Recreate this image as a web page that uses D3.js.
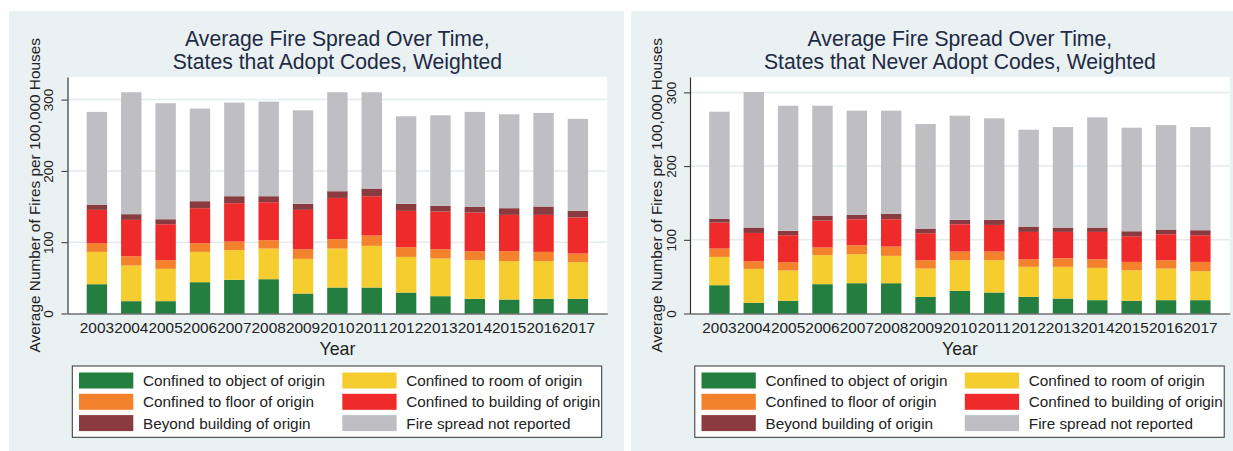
<!DOCTYPE html>
<html>
<head>
<meta charset="utf-8">
<script src="https://cdn.jsdelivr.net/npm/d3@7/dist/d3.min.js"></script>
<style>
  html, body { margin: 0; padding: 0; background: #ffffff; }
  svg { display: block; font-family: "Liberation Sans", Arial, sans-serif; }
</style>
</head>
<body>
<svg id="chart" width="1233" height="451"></svg>
<script>
// ---------- DATA ----------
const years = ["2003","2004","2005","2006","2007","2008","2009","2010","2011","2012","2013","2014","2015","2016","2017"];
const seriesNames = [
  "Confined to object of origin",
  "Confined to room of origin",
  "Confined to floor of origin",
  "Confined to building of origin",
  "Beyond building of origin",
  "Fire spread not reported"
];
const yTicks = [0, 100, 200, 300];

// States that adopt codes
const adoptObject      = [41.1, 17.3, 17.3, 43.9, 47.2, 48.1, 28.0, 36.4, 36.4, 29.4, 24.3, 20.6, 19.6, 20.6, 20.6];
const adoptRoom        = [45.3, 50.0, 45.3, 42.5, 41.6, 43.0, 48.6, 54.7, 58.5, 50.0, 52.8, 54.2, 53.8, 52.8, 51.4];
const adoptFloor       = [12.2, 13.1, 12.2, 12.2, 12.1, 11.7, 13.6, 13.1, 14.4, 13.6, 13.1, 12.6, 14.0, 13.0, 12.1];
const adoptBuilding    = [46.7, 50.9, 50.4, 49.1, 53.8, 53.3, 55.1, 57.9, 55.2, 50.9, 52.8, 54.2, 50.9, 51.9, 50.5];
const adoptBeyond      = [7.0, 8.0, 7.0, 9.8, 9.8, 8.4, 8.4, 9.4, 10.7, 9.8, 7.9, 7.9, 9.4, 11.7, 9.3];
const adoptNotReported = [130.4, 171.0, 162.7, 129.9, 131.3, 132.7, 131.3, 138.8, 135.1, 122.9, 127.1, 133.2, 131.7, 131.3, 129.0];

// States that never adopt codes
const neverObject      = [38.4, 14.5, 17.2, 39.8, 41.1, 41.1, 22.6, 30.7, 28.5, 22.6, 20.3, 18.1, 17.2, 18.1, 18.1];
const neverRoom        = [38.4, 46.0, 41.1, 39.3, 39.3, 37.1, 38.4, 41.6, 43.8, 40.7, 43.0, 43.8, 41.5, 42.9, 39.3];
const neverFloor       = [11.3, 10.4, 11.3, 10.4, 12.2, 12.6, 11.3, 11.7, 11.7, 10.3, 11.7, 11.7, 11.3, 11.3, 12.6];
const neverBuilding    = [35.2, 38.4, 36.6, 36.6, 35.3, 37.1, 36.6, 37.1, 36.2, 37.1, 35.7, 37.1, 34.8, 35.2, 36.2];
const neverBeyond      = [5.0, 7.3, 5.9, 6.7, 5.8, 7.2, 6.3, 5.9, 6.8, 7.2, 5.9, 5.9, 6.8, 6.4, 6.8];
const neverNotReported = [145.5, 183.9, 169.8, 149.1, 141.5, 140.1, 141.9, 141.4, 137.8, 131.5, 136.4, 149.5, 140.5, 141.8, 140.0];

const colors = ["#237e3f", "#f5cd2e", "#f4822c", "#ee2b2a", "#8a3b40", "#bfbfc3"];

function buildRows(arrs) {
  return years.map((yr, i) => {
    const row = { year: yr };
    seriesNames.forEach((s, j) => { row[s] = arrs[j][i]; });
    return row;
  });
}

const panels = [
  {
    dx: 0,
    title: ["Average Fire Spread Over Time,", "States that Adopt Codes, Weighted"],
    rows: buildRows([adoptObject, adoptRoom, adoptFloor, adoptBuilding, adoptBeyond, adoptNotReported]),
    yMax: 331.7
  },
  {
    dx: 622.5,
    title: ["Average Fire Spread Over Time,", "States that Never Adopt Codes, Weighted"],
    rows: buildRows([neverObject, neverRoom, neverFloor, neverBuilding, neverBeyond, neverNotReported]),
    yMax: 320.9
  }
];

const svg = d3.select("#chart");
const stack = d3.stack().keys(seriesNames);

panels.forEach((p, pi) => {
  const g = svg.append("g").attr("transform", `translate(${p.dx},0)`);
  const pl = 67.5, pr = 607.3, pt = 77, pb = 313.5;

  // panel background
  g.append("rect")
    .attr("x", pi === 0 ? 9 : 8.5).attr("y", 11)
    .attr("width", pi === 0 ? 615 : 620).attr("height", 440)
    .attr("fill", "#e9f1f3");

  // plot region
  g.append("rect").attr("x", pl).attr("y", pt).attr("width", pr - pl).attr("height", pb - pt).attr("fill", "#ffffff");

  const x = d3.scaleBand().domain(years).range([pl, pr]).paddingInner(0.406).paddingOuter(0.559);
  const y = d3.scaleLinear().domain([0, p.yMax]).range([pb, pt]);

  // grid
  g.append("g").selectAll("line").data(yTicks.filter(v => v > 0)).join("line")
    .attr("x1", pl).attr("x2", pr)
    .attr("y1", d => y(d)).attr("y2", d => y(d))
    .attr("stroke", "#e3ebee").attr("stroke-width", 1.5);

  // bars
  const stacked = stack(p.rows);
  g.append("g").selectAll("g").data(stacked).join("g")
    .attr("fill", (d, i) => colors[i])
    .selectAll("rect").data(d => d).join("rect")
    .attr("x", d => x(d.data.year))
    .attr("width", x.bandwidth())
    .attr("y", d => y(d[1]))
    .attr("height", d => y(d[0]) - y(d[1]));

  // y axis
  const ya = g.append("g").attr("transform", `translate(${pl},0)`)
    .call(d3.axisLeft(y).tickValues(yTicks).tickSize(6).tickSizeOuter(0));
  ya.select(".domain").attr("stroke", "#333").attr("stroke-width", 1.2);
  ya.selectAll(".tick line").attr("stroke", "#333").attr("stroke-width", 1);
  ya.selectAll(".tick text").remove();
  ya.selectAll(".tick").append("text")
    .attr("transform", `translate(${53.3 - pl},0) rotate(-90)`)
    .attr("text-anchor", "middle")
    .attr("fill", "#222")
    .attr("font-size", "13.5px")
    .text(d => d);

  // x axis
  const xa = g.append("g").attr("transform", `translate(0,${pb})`)
    .call(d3.axisBottom(x).tickSize(0).tickSizeOuter(0));
  xa.select(".domain").attr("stroke", "#333").attr("stroke-width", 1.2);
  xa.selectAll(".tick text")
    .attr("y", 19.8).attr("dy", null)
    .attr("fill", "#222").attr("font-size", "15.4px")
    .attr("font-family", "Liberation Sans, Arial, sans-serif");

  // axis titles
  g.append("text")
    .attr("transform", `translate(39.5,${(pt + pb) / 2}) rotate(-90)`)
    .attr("text-anchor", "middle").attr("fill", "#222").attr("font-size", "15.4px")
    .text("Average Number of Fires per 100,000 Houses");
  g.append("text")
    .attr("x", (pl + pr) / 2).attr("y", 354.5)
    .attr("text-anchor", "middle").attr("fill", "#222").attr("font-size", "17.8px")
    .text("Year");

  // title (two lines)
  g.append("text").attr("x", (pl + pr) / 2).attr("y", 45.6)
    .attr("text-anchor", "middle").attr("fill", "#1f2a44").attr("font-size", "21.2px")
    .text(p.title[0]);
  g.append("text").attr("x", (pl + pr) / 2).attr("y", 69.3)
    .attr("text-anchor", "middle").attr("fill", "#1f2a44").attr("font-size", "21.2px")
    .text(p.title[1]);

  // legend
  const lg = g.append("g");
  lg.append("rect").attr("x", 72.3).attr("y", 366).attr("width", 529.4).attr("height", 71.3)
    .attr("fill", "#ffffff").attr("stroke", "#333").attr("stroke-width", 1);
  const colX = [79, 342.3];
  const rowY = [372.5, 393.8, 415.1];
  seriesNames.forEach((s, i) => {
    const cx = colX[i % 2], ry = rowY[Math.floor(i / 2)];
    lg.append("rect").attr("x", cx).attr("y", ry).attr("width", 54.3).attr("height", 16)
      .attr("fill", colors[i]);
    lg.append("text").attr("x", cx + 64).attr("y", ry + 13.5)
      .attr("fill", "#222").attr("font-size", "15.3px").text(s);
  });
});
</script>
</body>
</html>
